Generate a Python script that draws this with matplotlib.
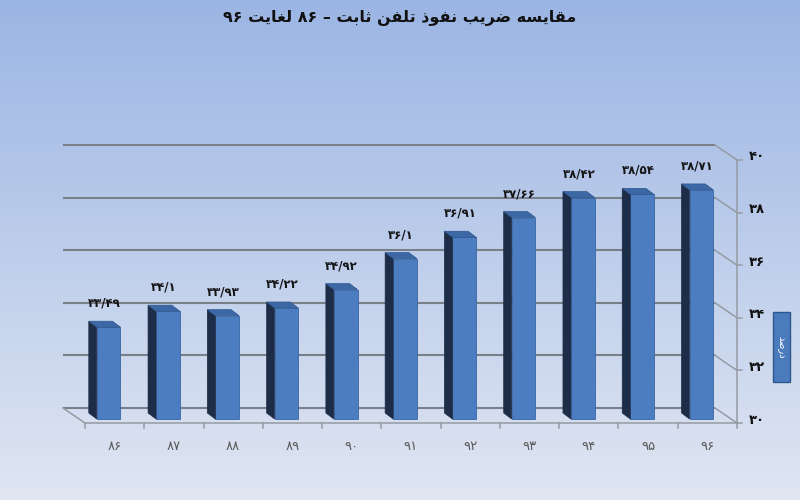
import re
import numpy as np
import matplotlib
matplotlib.use('Agg')
import matplotlib.pyplot as plt
from matplotlib.patches import Polygon, Rectangle

# ---------------- data ----------------
years = ['۸۶', '۸۷', '۸۸', '۸۹', '۹۰', '۹۱', '۹۲', '۹۳', '۹۴', '۹۵', '۹۶']
values = [33.49, 34.1, 33.93, 34.22, 34.92, 36.1, 36.91, 37.66, 38.42, 38.54, 38.71]
value_labels = ['۳۳/۴۹', '۳۴/۱', '۳۳/۹۳', '۳۴/۲۲', '۳۴/۹۲', '۳۶/۱',
                '۳۶/۹۱', '۳۷/۶۶', '۳۸/۴۲', '۳۸/۵۴', '۳۸/۷۱']
yticks = [30, 32, 34, 36, 38, 40]
ytick_labels = ['۳۰', '۳۲', '۳۴', '۳۶', '۳۸', '۴۰']
title = 'مقایسه ضریب نفوذ تلفن ثابت – ۸۶ لغایت ۹۶'
ylabel = 'درصد'

# ---------------- simple Persian shaping (contextual forms + visual order) ----------------
FORMS = {
    '\u0627': ('\uFE8D', '\uFE8E', None, None),
    '\u0628': ('\uFE8F', '\uFE90', '\uFE91', '\uFE92'),
    '\u062A': ('\uFE95', '\uFE96', '\uFE97', '\uFE98'),
    '\u062B': ('\uFE99', '\uFE9A', '\uFE9B', '\uFE9C'),
    '\u062F': ('\uFEA9', '\uFEAA', None, None),
    '\u0630': ('\uFEAB', '\uFEAC', None, None),
    '\u0631': ('\uFEAD', '\uFEAE', None, None),
    '\u0633': ('\uFEB1', '\uFEB2', '\uFEB3', '\uFEB4'),
    '\u0635': ('\uFEB9', '\uFEBA', '\uFEBB', '\uFEBC'),
    '\u0636': ('\uFEBD', '\uFEBE', '\uFEBF', '\uFEC0'),
    '\u063A': ('\uFECD', '\uFECE', '\uFECF', '\uFED0'),
    '\u0641': ('\uFED1', '\uFED2', '\uFED3', '\uFED4'),
    '\u0642': ('\uFED5', '\uFED6', '\uFED7', '\uFED8'),
    '\u0644': ('\uFEDD', '\uFEDE', '\uFEDF', '\uFEE0'),
    '\u0645': ('\uFEE1', '\uFEE2', '\uFEE3', '\uFEE4'),
    '\u0646': ('\uFEE5', '\uFEE6', '\uFEE7', '\uFEE8'),
    '\u0647': ('\uFEE9', '\uFEEA', '\uFEEB', '\uFEEC'),
    '\u0648': ('\uFEED', '\uFEEE', None, None),
    '\u06CC': ('\uFBFC', '\uFBFD', '\uFBFE', '\uFBFF'),
}


def shape(s):
    out = []
    n = len(s)
    for i, ch in enumerate(s):
        f = FORMS.get(ch)
        if f is None:
            out.append(ch)
            continue
        prev = s[i - 1] if i > 0 else ''
        nxt = s[i + 1] if i < n - 1 else ''
        jp = prev in FORMS and FORMS[prev][2] is not None
        jn = f[2] is not None and nxt in FORMS
        if jp and jn:
            out.append(f[3])
        elif jp:
            out.append(f[1])
        elif jn:
            out.append(f[2])
        else:
            out.append(f[0])
    return ''.join(out)


def visual(s):
    s = shape(s)
    tokens = re.findall(r'[\u06F0-\u06F90-9/]+|[^\u06F0-\u06F90-9/]', s)
    return ''.join(reversed(tokens))


plt.rcParams['font.family'] = ['DejaVu Sans']

W, H = 800, 500
fig = plt.figure(figsize=(8, 5), dpi=100)

# background gradient
bg = fig.add_axes([0, 0, 1, 1], zorder=-10)
top = np.array([155, 181, 228]) / 255.0
bot = np.array([224, 230, 242]) / 255.0
t = np.linspace(0, 1, 256)[:, None]
grad = top[None, :] * (1 - t) + bot[None, :] * t
bg.imshow(grad[:, None, :], aspect='auto', extent=[0, 1, 0, 1])
bg.axis('off')

# main plotting axes (front plane)
x0, x1 = 85, 737
yb_px, yt_px = 423, 160
ax = fig.add_axes([x0 / W, 1 - yb_px / H, (x1 - x0) / W, (yb_px - yt_px) / H])
ax.set_xlim(-0.5, 10.5)
ax.set_ylim(30, 40)
ax.axis('off')
ax.patch.set_alpha(0)

ppx = (x1 - x0) / 11.0
ppy = (yb_px - yt_px) / 10.0


def dx(p):
    return p / ppx


def dy(p):
    return p / ppy


grid_c = '#7a808a'
line_c = '#959ba4'

# back wall gridlines
bx, by = dx(-22), dy(15)
for v, lab in zip(yticks, ytick_labels):
    ax.plot([-0.5 + bx, 10.5 + bx], [v + by, v + by], color=grid_c, lw=1.5,
            solid_capstyle='butt', clip_on=False, zorder=1)
    ax.plot([10.5 + bx, 10.5], [v + by, v], color=line_c, lw=1.1,
            clip_on=False, zorder=1)
    ax.plot([10.5, 10.5 + dx(5)], [v, v], color=line_c, lw=1.1, clip_on=False)
    ax.text(10.5 + dx(20), v + dy(3), visual(lab),
            ha='center', va='center', fontsize=9.5, fontweight='bold',
            color='#111111', clip_on=False)

# floor
ax.plot([-0.5 + bx, -0.5], [30 + by, 30], color=line_c, lw=1.1, clip_on=False)
ax.plot([-0.5, 10.5], [30, 30], color=line_c, lw=1.1, clip_on=False)
ax.plot([10.5, 10.5], [30, 40], color=line_c, lw=1.1, clip_on=False)
for b in np.arange(-0.5, 11, 1.0):
    ax.plot([b, b], [30, 30 - dy(5)], color=line_c, lw=1.1, clip_on=False)

# bars (pseudo 3D)
xs = np.arange(len(values))
ox, oy = dx(-6), dy(4)
sx, sy = dx(-8), dy(6)
bw = 0.4
heights = [v - 30 for v in values]
ax.bar(xs + ox, heights, bottom=30 + oy, width=bw, color='#4b7dc0',
       edgecolor='#3a66a2', linewidth=0.6, zorder=3, clip_on=False)
for i, v in enumerate(values):
    xl = xs[i] + ox - bw / 2
    xr = xs[i] + ox + bw / 2
    yb = 30 + oy
    yt = v + oy
    side = Polygon([(xl, yb), (xl, yt), (xl + sx, yt + sy), (xl + sx, yb + sy)],
                   closed=True, facecolor='#1d2c47', edgecolor='#1d2c47',
                   lw=0.5, zorder=3, clip_on=False)
    topf = Polygon([(xl, yt), (xr, yt), (xr + sx, yt + sy), (xl + sx, yt + sy)],
                   closed=True, facecolor='#3c68a6', edgecolor='#2f568c',
                   lw=0.5, zorder=4, clip_on=False)
    ax.add_patch(side)
    ax.add_patch(topf)
    ax.text(xs[i] + ox + sx / 2, yt + sy + dy(18), visual(value_labels[i]),
            ha='center', va='center', fontsize=8.5, fontweight='bold',
            color='#151515', clip_on=False, zorder=5)
    ax.text(xs[i], 30 - dy(23), visual(years[i]), ha='center', va='center',
            fontsize=9.5, color='#5a5a5a', clip_on=False)

# y-axis title box
fig.patches.append(Rectangle((773 / W, 1 - 382 / H), 17 / W, 70 / H,
                             transform=fig.transFigure, facecolor='#4a7bbd',
                             edgecolor='#2c5791', lw=1.0, zorder=5))
fig.text(781.5 / W, 1 - 347 / H, visual(ylabel), rotation=270, ha='center',
         va='center', fontsize=7, color='white', zorder=6)

# title
fig.text(0.5, 1 - 18 / H, visual(title), ha='center', va='center',
         fontsize=11.5, fontweight='bold', color='#111111')

fig.savefig('out.png', dpi=100)
